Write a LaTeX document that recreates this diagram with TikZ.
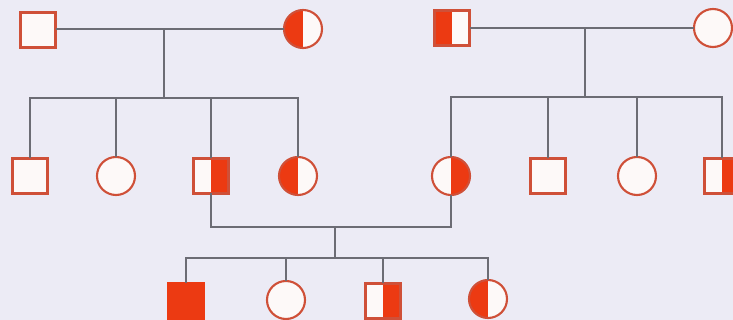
\documentclass[tikz,border=0pt]{standalone}
\begin{document}
\begin{tikzpicture}[x=0.03cm,y=-0.03cm]
\definecolor{bg}{HTML}{ECEBF5}
\definecolor{redf}{HTML}{EC3A12}
\definecolor{outl}{HTML}{CF5038}
\definecolor{inner}{HTML}{FDF9F8}
\definecolor{ln}{HTML}{6C6C74}
\tikzset{
  base/.style={draw=outl, fill=inner, line width=1.8pt, inner sep=0pt, outer sep=0pt},
  sq/.style={base, rectangle, minimum size=1.05cm},
  ci/.style={base, circle, minimum size=1.14cm},
  lhalf/.style={path picture={\fill[redf] (path picture bounding box.south west) rectangle (path picture bounding box.north);}},
  rhalf/.style={path picture={\fill[redf] (path picture bounding box.south) rectangle (path picture bounding box.north east);}},
  full/.style={fill=redf, draw=redf},
  conn/.style={draw=ln, line width=1.2pt}
}
\fill[bg] (0,0) rectangle (733,320);
\useasboundingbox (0,0) rectangle (733,320);
\begin{scope}
\clip (0,0) rectangle (733,320);
\coordinate (j1) at (164,29);
\coordinate (s1) at (164,98);
\coordinate (j2) at (585,28);
\coordinate (s2) at (585,97);
\coordinate (j3) at (335,227);
\coordinate (s3) at (335,258);
% nodes
\node[sq] (A1) at (38,30) {};
\node[ci,lhalf] (A2) at (303,29) {};
\node[sq,lhalf] (B1) at (452,28) {};
\node[ci] (B2) at (713,28) {};
\node[sq] (C1) at (30,176) {};
\node[ci] (C2) at (116,176) {};
\node[sq,rhalf] (C3) at (211,176) {};
\node[ci,lhalf] (C4) at (298,176) {};
\node[ci,rhalf] (D1) at (451,176) {};
\node[sq] (D2) at (548,176) {};
\node[ci] (D3) at (637,176) {};
\node[sq,rhalf] (D4) at (722,176) {};
\node[sq,full] (E1) at (186,301) {};
\node[ci] (E2) at (286,300) {};
\node[sq,rhalf] (E3) at (383,301) {};
\node[ci,lhalf] (E4) at (488,299) {};
% family 1
\draw[conn] (A1.east |- j1) -- (A2.west);
\draw[conn] (j1) -- (s1);
\draw[conn] (C1.north) |- (s1);
\draw[conn] (C4.north) |- (s1);
\draw[conn] (C2.north) -- (C2.north |- s1);
\draw[conn] (C3.north) -- (C3.north |- s1);
% family 2
\draw[conn] (B1.east) -- (B2.west);
\draw[conn] (j2) -- (s2);
\draw[conn] (D1.north) |- (s2);
\draw[conn] (D4.north) |- (s2);
\draw[conn] (D2.north) -- (D2.north |- s2);
\draw[conn] (D3.north) -- (D3.north |- s2);
% family 3
\draw[conn] (C3.south) |- (j3);
\draw[conn] (D1.south) |- (j3);
\draw[conn] (j3) -- (s3);
\draw[conn] (E1.north) |- (s3);
\draw[conn] (E4.north) |- (s3);
\draw[conn] (E2.north) -- (E2.north |- s3);
\draw[conn] (E3.north) -- (E3.north |- s3);
\end{scope}
\end{tikzpicture}
\end{document}
